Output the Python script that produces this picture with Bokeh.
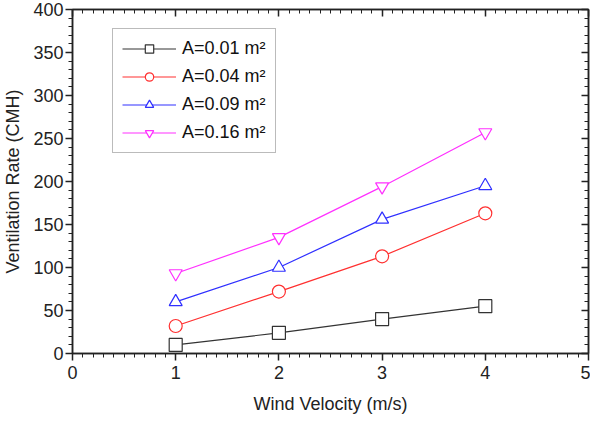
from bokeh.plotting import figure
from bokeh.models import LinearAxis, Range1d, FixedTicker, Legend, LegendItem
from bokeh.embed import file_html
from bokeh.resources import INLINE

velocity = [1, 2, 3, 4]
a001 = [10, 24, 40, 55]
a004 = [32, 72, 113, 163]
a009 = [60, 100, 156, 195]
a016 = [93, 135, 194, 257]
labels = ["A=0.01 m²", "A=0.04 m²", "A=0.09 m²", "A=0.16 m²"]
colors = ["#333333", "#ff3030", "#3030ff", "#ff30ff"]
markers = ["square", "circle", "triangle", "inverted_triangle"]
x_ticks = [0, 1, 2, 3, 4, 5]
y_ticks = [0, 50, 100, 150, 200, 250, 300, 350, 400]

FONT = "Liberation Sans"

p = figure(width=590, height=416, output_backend="svg", toolbar_location=None,
           x_range=Range1d(0, 5), y_range=Range1d(0, 400),
           min_border_left=70, min_border_right=2, min_border_top=9, min_border_bottom=60)
p.grid.visible = False
p.outline_line_color = "#222222"
p.outline_line_width = 1.5

items = []
for ys, lab, c, m in zip([a001, a004, a009, a016], labels, colors, markers):
    r1 = p.line(velocity, ys, line_color=c, line_width=1.2)
    r2 = p.scatter(velocity, ys, marker=m, size=13, line_color=c, fill_color="white", line_width=1.2)
    items.append(LegendItem(label=lab, renderers=[r1, r2]))

leg = Legend(items=items)
leg.label_text_font = FONT
leg.label_text_font_size = "18px"
leg.label_text_color = "#111111"
leg.glyph_width = 54
leg.glyph_height = 21
leg.label_height = 21
leg.spacing = 7
leg.padding = 9
leg.margin = 0
leg.border_line_color = "#777777"
leg.border_line_width = 1
leg.label_standoff = 6
leg.location = (40, 200)
p.add_layout(leg)

def style(ax):
    ax.axis_line_color = "#222222"
    ax.axis_line_width = 1.5
    ax.major_tick_line_color = "#222222"
    ax.minor_tick_line_color = "#222222"
    ax.major_tick_line_width = 1.5
    ax.minor_tick_line_width = 1
    ax.major_label_text_font = FONT
    ax.major_label_text_font_size = "18px"
    ax.major_label_text_color = "#222222"
    ax.axis_label_text_font = FONT
    ax.axis_label_text_font_size = "18px"
    ax.axis_label_text_font_style = "normal"
    ax.axis_label_text_color = "#222222"

xt = FixedTicker(ticks=x_ticks, minor_ticks=[i / 10 for i in range(51)])
yt = FixedTicker(ticks=y_ticks, minor_ticks=list(range(0, 401, 10)))

xa = p.xaxis[0]
xa.ticker = xt
xa.axis_label = "Wind Velocity (m/s)"
style(xa)
xa.major_tick_out = 7
xa.major_tick_in = 0
xa.minor_tick_out = 4
xa.minor_tick_in = 0
xa.major_label_standoff = 5
xa.axis_label_standoff = 12

ya = p.yaxis[0]
ya.ticker = yt
ya.axis_label = "Ventilation Rate (CMH)"
style(ya)
ya.major_tick_out = 7
ya.major_tick_in = 0
ya.minor_tick_out = 4
ya.minor_tick_in = 0
ya.major_label_standoff = 2
ya.axis_label_standoff = 7

top = LinearAxis(ticker=xt)
style(top)
top.major_label_overrides = {t: "" for t in x_ticks}
top.major_tick_in = 7
top.major_tick_out = 0
top.minor_tick_in = 4
top.minor_tick_out = 0
top.major_label_standoff = 0
p.add_layout(top, "above")

right = LinearAxis(ticker=yt)
style(right)
right.major_label_overrides = {t: "" for t in y_ticks}
right.major_tick_in = 7
right.major_tick_out = 0
right.minor_tick_in = 4
right.minor_tick_out = 0
right.major_label_standoff = 0
p.add_layout(right, "right")

open("out.html", "w").write(file_html(p, INLINE))
